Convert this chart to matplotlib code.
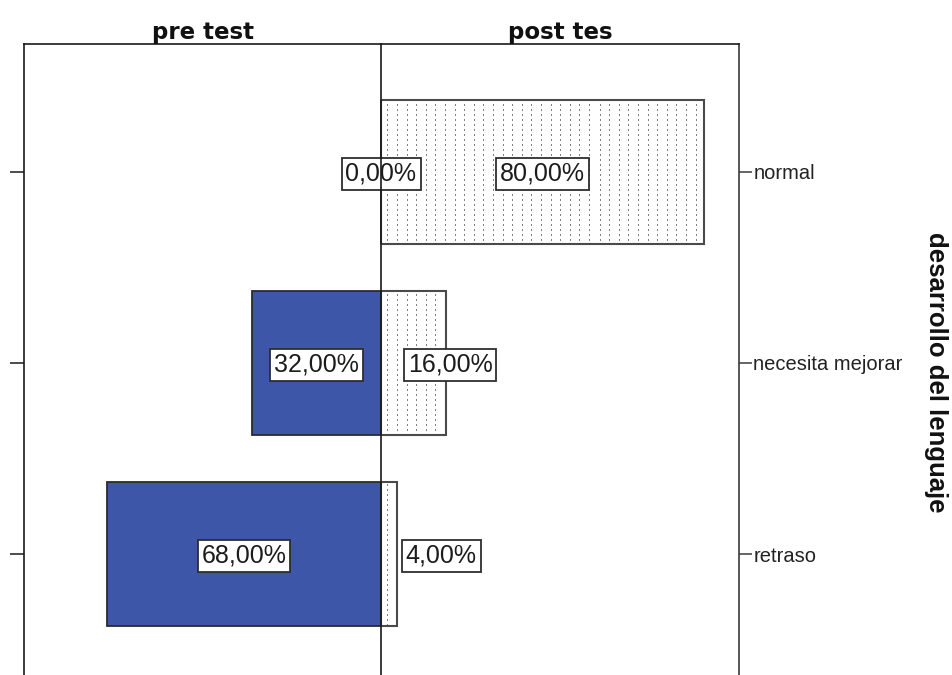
import numpy as np
import matplotlib
matplotlib.use("Agg")
import matplotlib.pyplot as plt

# Data: share of children (%) in each language-development level
categories = ["normal", "necesita mejorar", "retraso"]
pre_test = [0.0, 32.0, 68.0]
post_test = [80.0, 16.0, 4.0]
panel_titles = ["pre test", "post tes"]
axis_title = "desarrollo del lenguaje"

# Horizontal centre (percent units) of each post-test value label
post_label_x = [40.0, 17.1, 14.9]

XMAX = 88.6          # percent range shown on each side
BAR_H = 0.75
YLIM = (2.67, -0.67)
PRE_COLOR = "#3D56A8"

W_PX, H_PX = 953, 675
fig = plt.figure(figsize=(W_PX / 100, H_PX / 100), dpi=100)

left_px, mid_px, right_px = 24, 381, 739
top_px, bottom_px = 44, 682
ax_h_frac = (bottom_px - top_px) / H_PX
ax_y0 = 1 - bottom_px / H_PX
ax_pre = fig.add_axes([left_px / W_PX, ax_y0, (mid_px - left_px) / W_PX, ax_h_frac])
ax_post = fig.add_axes([mid_px / W_PX, ax_y0, (right_px - mid_px) / W_PX, ax_h_frac])
ax_pre.set_zorder(3)
ax_post.set_zorder(2)

y = np.arange(len(categories))


def pct(v):
    return f"{v:.2f}".replace(".", ",") + "%"


label_box = dict(boxstyle="square,pad=0.16", facecolor="white",
                 edgecolor="#2e2e2e", linewidth=1.3)
label_font = dict(family=["Liberation Sans", "DejaVu Sans"], size=18, color="#1c1c1c")

# ---- pre test panel (bars grow to the left) ----
ax_pre.barh(y, pre_test, height=BAR_H, color=PRE_COLOR,
            edgecolor="#2b2b2b", linewidth=1.3, zorder=2)
for yi, v in zip(y, pre_test):
    ax_pre.text(v / 2, yi + 0.01, pct(v), ha="center", va="center", bbox=label_box,
                clip_on=False, zorder=5, **label_font)
ax_pre.set_xlim(XMAX, 0)
ax_pre.set_ylim(*YLIM)

# ---- post test panel (dotted bars grow to the right) ----
post_bars = ax_post.barh(y, post_test, height=BAR_H, color="white",
                         edgecolor="none", zorder=1)

ax_w = right_px - mid_px
ax_h = bottom_px - top_px
cols = np.arange(ax_w)
rows = np.arange(ax_h)
texture = np.ones((ax_h, ax_w))
dots = (((cols - 6) % 9.6) < 1.0)[None, :] & ((rows % 5) < 2)[:, None]
texture[dots] = 0.5
for bar in post_bars:
    im = ax_post.imshow(texture, cmap="gray", vmin=0, vmax=1,
                        extent=(0, XMAX, YLIM[0], YLIM[1]), aspect="auto",
                        interpolation="nearest", zorder=1.5)
    im.set_clip_path(bar)

ax_post.barh(y, post_test, height=BAR_H, fill=False,
             edgecolor="#4a4a4a", linewidth=1.5, zorder=3)
for yi, v, lx in zip(y, post_test, post_label_x):
    ax_post.text(lx, yi + 0.01, pct(v), ha="center", va="center", bbox=label_box,
                 clip_on=False, zorder=5, **label_font)
ax_post.set_xlim(0, XMAX)
ax_post.set_ylim(*YLIM)

# ---- frames, ticks and labels ----
for ax in (ax_pre, ax_post):
    ax.set_xticks([])
    for s in ax.spines.values():
        s.set_linewidth(1.2)
        s.set_color("#1a1a1a")
    ax.spines["bottom"].set_visible(False)
ax_post.spines["left"].set_visible(False)
ax_pre.spines["right"].set_zorder(10)
ax_post.spines["right"].set_color("#3a3a3a")

ax_pre.set_yticks(y)
ax_pre.tick_params(axis="y", direction="out", length=10, width=1.1,
                   color="#1a1a1a", left=True, right=False, labelleft=False)

ax_post.yaxis.tick_right()
ax_post.set_yticks(y, categories)
ax_post.tick_params(axis="y", direction="out", length=9.4, width=1.1,
                    color="#3a3a3a", pad=1, left=False, labelsize=14.5,
                    labelcolor="#222222")
for t in ax_post.get_yticklabels():
    t.set_family(["Liberation Sans", "DejaVu Sans"])
    t.set_va("center_baseline")

title_font = dict(family=["DejaVu Sans"], size=16.5, weight="bold", color="#111111")
ax_pre.set_title(panel_titles[0], pad=3, **title_font)
ax_post.set_title(panel_titles[1], pad=3, **title_font)

fig.text(936 / W_PX, 1 - 372 / H_PX, axis_title, rotation=270,
         ha="center", va="center", family=["Liberation Sans", "DejaVu Sans"],
         size=18.5, weight="bold", color="#111111")

fig.savefig("out.png", dpi=100)
